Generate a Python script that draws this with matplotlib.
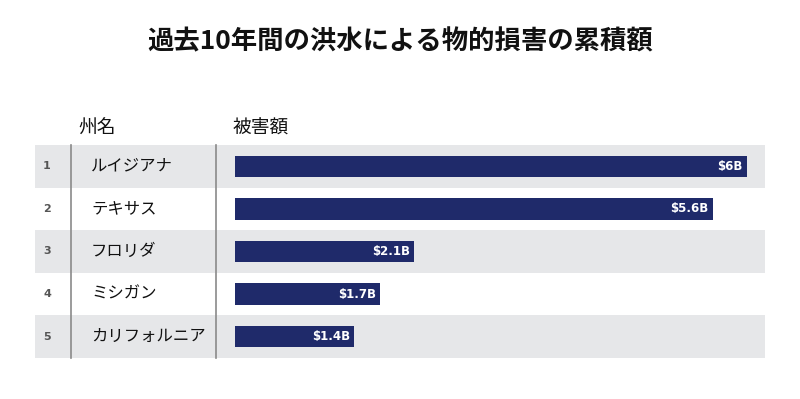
import matplotlib.pyplot as plt
from matplotlib.patches import Rectangle

plt.rcParams['font.family'] = ['Noto Sans CJK JP', 'DejaVu Sans']

title = '過去10年間の洪水による物的損害の累積額'
col_state = '州名'
col_value = '被害額'
ranks = ['1', '2', '3', '4', '5']
states = ['ルイジアナ', 'テキサス', 'フロリダ', 'ミシガン', 'カリフォルニア']
damage = [6.0, 5.6, 2.1, 1.7, 1.4]
labels = ['$6B', '$5.6B', '$2.1B', '$1.7B', '$1.4B']

W, H = 800, 399
bar_color = '#1f2a6a'
band_color = '#e6e7e9'
line_color = '#8a8a8a'

# table geometry in pixels
top, row_h = 145, 42.6
left, right = 35, 765
bar_x0 = 235

fig = plt.figure(figsize=(W / 100, H / 100), dpi=100)

# background layer in pixel coords
bg = fig.add_axes([0, 0, 1, 1])
bg.set_xlim(0, W)
bg.set_ylim(H, 0)
bg.axis('off')

n = len(states)
for i in range(n):
    y0 = top + i * row_h
    if i % 2 == 0:
        bg.add_patch(Rectangle((left, y0), right - left, row_h,
                               color=band_color, lw=0, zorder=0))
    yc = y0 + row_h / 2
    bg.text(47, yc, ranks[i], fontsize=8, fontweight='bold', color='#555555',
            ha='center', va='center', family='DejaVu Sans')
    bg.text(91, yc, states[i], fontsize=11.8, color='#111111',
            ha='left', va='center')

bottom = top + n * row_h
bg.plot([70.5, 70.5], [top, bottom], color=line_color, lw=1.2)
bg.plot([215.5, 215.5], [top, bottom], color=line_color, lw=1.2)

bg.text(78, 128, col_state, fontsize=13.5, color='#111111', ha='left', va='center')
bg.text(233, 128, col_value, fontsize=13.5, color='#111111', ha='left', va='center')
bg.text(W / 2, 42, title, fontsize=19, fontweight='bold', color='#111111',
        ha='center', va='center')

# bar axes
px_per_unit = 512 / 6.0
ax = fig.add_axes([bar_x0 / W, 1 - bottom / H, (right - bar_x0) / W, (bottom - top) / H])
ax.set_xlim(0, (right - bar_x0) / px_per_unit)
ax.set_ylim(n - 0.5, -0.5)
ax.patch.set_alpha(0)
ax.axis('off')

ax.barh(range(n), damage, height=0.5, color=bar_color)
for i, (v, lab) in enumerate(zip(damage, labels)):
    ax.text(v - 0.05, i, lab, color='white', fontsize=8.5, fontweight='bold',
            ha='right', va='center', family='DejaVu Sans')

fig.savefig('out.png', dpi=100)
